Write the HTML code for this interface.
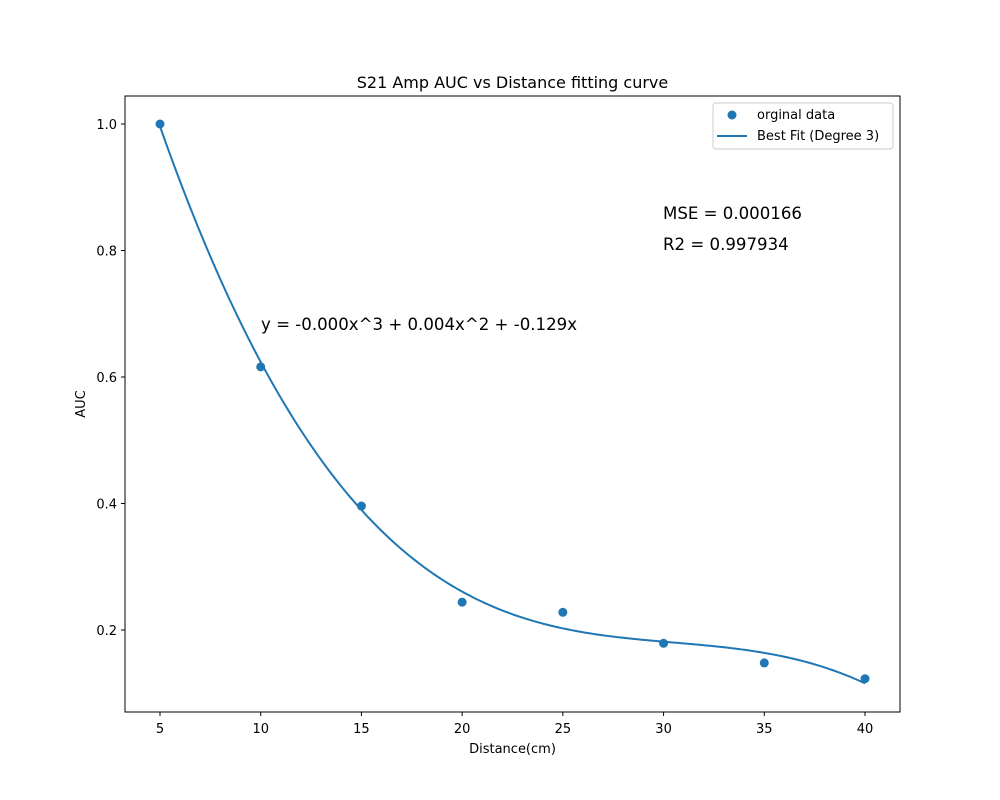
<!DOCTYPE html>
<html><head><meta charset="utf-8"><style>
body{margin:0;background:#fff;}
svg{display:block;font-family:"DejaVu Sans","Liberation Sans",sans-serif;}
</style></head><body>
<svg id="chart" width="1000" height="800">
<rect x="0" y="0" width="1000" height="800" fill="#fff"/>
<text x="512.5" y="88" font-size="16" text-anchor="middle">S21 Amp AUC vs Distance fitting curve</text>
<g id="ticks"></g>
<path id="fit" fill="none" stroke="#1f77b4" stroke-width="2"/>
<g id="pts"></g>
<rect x="125" y="96" width="775" height="616" fill="none" stroke="#000" stroke-width="1"/>
<text x="512.5" y="753" font-size="13" text-anchor="middle">Distance(cm)</text>
<text x="85" y="404" font-size="13" text-anchor="middle" transform="rotate(-90 85 404)">AUC</text>
<text x="261" y="330" font-size="16.6">y = -0.000x^3 + 0.004x^2 + -0.129x</text>
<text x="663" y="219" font-size="16.6">MSE = 0.000166</text>
<text x="663" y="250" font-size="16.6">R2 = 0.997934</text>
<g>
<rect x="713" y="103" width="180" height="46" rx="3" fill="#fff" fill-opacity="0.8" stroke="#ccc"/>
<circle cx="732" cy="115" r="4.5" fill="#1f77b4"/>
<text x="757" y="119" font-size="13">orginal data</text>
<line x1="717" y1="136" x2="747" y2="136" stroke="#1f77b4" stroke-width="2"/>
<text x="757" y="140" font-size="13">Best Fit (Degree 3)</text>
</g>
</svg>
<script>
const xValues=[5,10,15,20,25,30,35,40];
const yValues=[1.0,0.616,0.396,0.244,0.228,0.179,0.148,0.123];
const xTicks=[5,10,15,20,25,30,35,40];
const yTicks=[0.2,0.4,0.6,0.8,1.0];
const NS="http://www.w3.org/2000/svg";
const sx=v=>160+(v-5)*705/35;
const sy=v=>630-(v-0.2)*632.5;
const tk=document.getElementById('ticks');
function mk(t,a,p){const e=document.createElementNS(NS,t);for(const k in a)e.setAttribute(k,a[k]);p.appendChild(e);return e;}
xTicks.forEach(v=>{
 const l=mk('line',{x1:sx(v),x2:sx(v),y1:712,y2:716,stroke:'#000'},tk);
 
 
 const t=mk('text',{x:sx(v),y:733,'font-size':13,'text-anchor':'middle'},tk);t.textContent=v;
 
 
});
yTicks.forEach(v=>{
 const l=mk('line',{x1:121,x2:125,y1:sy(v),y2:sy(v),stroke:'#000'},tk);
 
 
 const t=mk('text',{x:117,y:sy(v)+5,'font-size':13,'text-anchor':'end'},tk);t.textContent=v.toFixed(1);
 
 
});
const n=4,A=[],b=[];
for(let i=0;i<n;i++){A.push([]);for(let j=0;j<n;j++){let s=0;xValues.forEach(x=>s+=Math.pow(x,i+j));A[i].push(s);}let s=0;xValues.forEach((x,k)=>s+=Math.pow(x,i)*yValues[k]);b.push(s);}
for(let i=0;i<n;i++){for(let r=i+1;r<n;r++){const f=A[r][i]/A[i][i];for(let c=i;c<n;c++)A[r][c]-=f*A[i][c];b[r]-=f*b[i];}}
const co=new Array(n);for(let i=n-1;i>=0;i--){let s=b[i];for(let c=i+1;c<n;c++)s-=A[i][c]*co[c];co[i]=s/A[i][i];}
const x0=Math.min(...xValues),x1=Math.max(...xValues);let d='';
for(let i=0;i<=200;i++){const x=x0+(x1-x0)*i/200;let y=0;for(let k=0;k<n;k++)y+=co[k]*Math.pow(x,k);d+=(i?'L':'M')+sx(x).toFixed(2)+','+sy(y).toFixed(2);}
document.getElementById('fit').setAttribute('d',d);
const pg=document.getElementById('pts');
xValues.forEach((x,i)=>{
 const c=mk('circle',{cx:sx(x),cy:sy(yValues[i]),r:4.5,fill:'#1f77b4'},pg);
 
 
});
</script>
</body></html>
